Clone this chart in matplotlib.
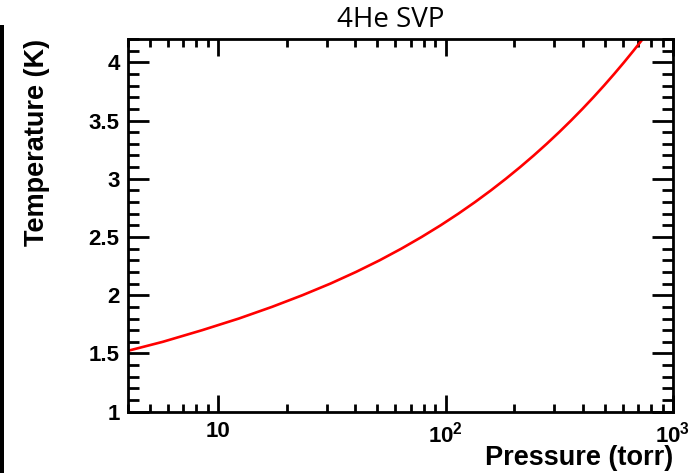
import matplotlib
matplotlib.use("Agg")
import matplotlib.pyplot as plt
from matplotlib.patches import Rectangle
from matplotlib.ticker import FixedLocator, FixedFormatter, LogLocator, MultipleLocator, NullFormatter

# 4He saturated vapour pressure
temperature = [1.5, 1.6, 1.7, 1.8, 1.9, 2.0, 2.1, 2.2, 2.3, 2.4, 2.5, 2.6, 2.7, 2.8,
               2.9, 3.0, 3.1, 3.2, 3.3, 3.4, 3.5, 3.6, 3.7, 3.8, 3.9, 4.0, 4.1, 4.2]
pressure = [3.60, 5.69, 8.48, 12.3, 17.2, 23.4, 31.1, 40.3, 51.2, 63.8, 78.3, 94.9,
            113.6, 134.6, 158.0, 183.9, 212.5, 243.9, 278.2, 315.5, 355.9, 399.6,
            446.6, 497.1, 551.1, 608.9, 670.4, 735.9]

xtick_vals = [10, 100, 1000]
xtick_labels = ["10", "$10^2$", "$10^3$"]
ytick_vals = [1, 1.5, 2, 2.5, 3, 3.5, 4]
ytick_labels = ["1", "1.5", "2", "2.5", "3", "3.5", "4"]

plt.rcParams["font.family"] = "Liberation Sans"
plt.rcParams["font.weight"] = "bold"
plt.rcParams["mathtext.fontset"] = "custom"
plt.rcParams["mathtext.rm"] = "Liberation Sans:bold"
plt.rcParams["mathtext.default"] = "rm"

fig = plt.figure(figsize=(7, 4.73), dpi=100)
ax = fig.add_axes([128 / 700, 61.3 / 473, 545 / 700, 372.7 / 473])

ax.plot(pressure, temperature, color="red", linewidth=1.9)

ax.set_xscale("log")
ax.set_xlim(4, 1000)
ax.set_ylim(1, 4.2)

ax.xaxis.set_major_locator(FixedLocator(xtick_vals))
ax.xaxis.set_major_formatter(FixedFormatter(xtick_labels))
ax.xaxis.set_minor_locator(LogLocator(base=10, subs=range(2, 10)))
ax.xaxis.set_minor_formatter(NullFormatter())
ax.yaxis.set_major_locator(FixedLocator(ytick_vals))
ax.yaxis.set_major_formatter(FixedFormatter(ytick_labels))
ax.yaxis.set_minor_locator(MultipleLocator(0.1))

for s in ax.spines.values():
    s.set_linewidth(2)

ax.tick_params(axis="both", which="both", direction="in", top=True, right=True,
               width=2, color="black")
ax.tick_params(axis="x", which="major", length=12, pad=7, labelsize=16)
ax.tick_params(axis="x", which="minor", length=6)
ax.tick_params(axis="y", which="major", length=15, pad=6, labelsize=16)
ax.tick_params(axis="y", which="minor", length=8)

ax.set_xlabel("Pressure (torr)", loc="right", fontsize=19.5, fontweight="bold")
ax.set_ylabel("Temperature (K)", loc="top", fontsize=19.5, fontweight="bold")
ax.xaxis.set_label_coords(1.0, -0.09)
ax.yaxis.set_label_coords(-0.143, 1.0)

fig.text(391 / 700, 446 / 473, "4He SVP", ha="center", va="baseline",
         fontsize=20, fontweight="normal", family="Open Sans")

# black bar along the left edge of the slide
fig.add_artist(Rectangle((0, 0), 4 / 700, 448 / 473, transform=fig.transFigure,
                         color="black", linewidth=0))

fig.savefig("out.png", dpi=100)
